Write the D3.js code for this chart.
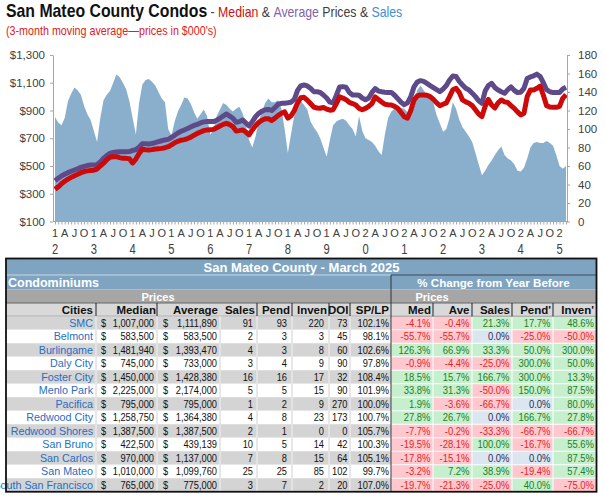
<!DOCTYPE html>
<html>
<head>
<meta charset="utf-8">
<script src="https://cdn.jsdelivr.net/npm/d3@7"></script>
<style>
body { margin: 0; background: #fff; }
svg { display: block; font-family: Arial, "Liberation Sans", sans-serif; }
text { white-space: pre; }
</style>
</head>
<body>
<div id="chart"></div>
<script>

// ---- chart data: 3-month moving averages, Jan 2012 .. Mar 2025 ----
const startYear = 2012

const medianK = [
332,350,372,390,405,418,430,440,452,460,465,468,
470,478,500,520,545,563,566,567,560,555,555,553,
522,550,590,620,617,615,618,623,625,627,632,639,
652,668,678,686,690,698,708,722,735,745,755,760,
762,764,775,788,800,808,798,784,752,755,760,745,
725,760,790,815,830,840,840,828,845,865,880,890,
845,862,900,955,992,995,975,950,925,918,916,922,
910,902,906,950,998,990,978,958,950,940,915,905,
915,930,950,998,980,962,945,942,940,930,915,885,
855,845,900,975,1005,1012,1012,1010,1000,980,955,935,
945,955,1000,1050,1060,1030,976,962,952,935,905,875,
856,930,980,940,918,955,976,962,958,935,915,890,
868,880,1000,1048,1048,1060,1075,1010,935,925,923,923,
930,988,1015
]

const averageK = [
394,412,428,440,452,462,471,480,490,497,503,507,
507,510,530,555,575,591,597,601,602,603,603,604,
612,618,635,660,661,659,662,668,675,682,688,692,
705,722,738,750,760,770,782,792,800,810,818,820,
820,820,830,844,860,875,860,844,815,820,832,810,
788,820,855,880,895,906,908,900,920,945,952,953,
956,960,980,1045,1078,1084,1077,1060,1036,1036,1030,1012,
990,960,955,1010,1070,1072,1068,1030,1012,1012,1010,990,
978,990,1030,1058,1040,1035,1032,1030,1030,1010,985,960,
942,955,1000,1070,1105,1115,1110,1095,1080,1065,1050,1036,
1055,1080,1120,1148,1146,1110,1084,1060,1048,1025,1000,970,
952,1040,1080,1096,1065,1048,1035,1024,1050,1070,1045,1029,
1032,1060,1130,1142,1150,1162,1145,1100,1050,1035,1029,1029,
1030,1055,1067
]

const salesAvg = [
113,107,104,112,130,138,145,142,137,125,116,110,
98,86,112,131,137,141,150,159,156,150,143,130,
112,94,128,148,153,154,151,147,140,133,129,100,
93,108,119,126,134,133,127,118,111,116,121,114,
94,99,114,121,128,126,122,119,122,124,117,104,
88,80,92,108,119,128,133,129,129,131,122,100,
74,95,115,125,130,126,121,108,102,97,90,80,
70,88,104,108,110,111,109,104,100,92,114,98,
90,88,86,82,76,72,94,112,119,122,124,123,
122,118,115,128,142,147,142,137,133,128,115,106,
97,100,112,129,122,110,102,97,92,86,74,62,
50,55,61,66,72,77,81,72,68,66,62,55,
54,58,68,80,85,86,85,85,87,85,82,72,
60,57,60
]

const priceTicks = [100, 300, 500, 700, 900, 1100, 1300]
const salesTicks = [0, 20, 40, 60, 80, 100, 120, 140, 160, 180]
const quarterLetters = ['A', 'J', 'O']

// ---- table data: March 2025 ----
const cities = ['SMC','Belmont','Burlingame','Daly City','Foster City','Menlo Park','Pacifica','Redwood City','Redwood Shores','San Bruno','San Carlos','San Mateo','South San Francisco']
const medianPrice = [1007000,583500,1481940,745000,1450000,2225000,795000,1258750,1387500,422500,970000,1010000,765000]
const averagePrice = [1111890,583500,1393470,733000,1428380,2174000,795000,1364380,1387500,439139,1137000,1099760,775000]
const salesCount = [91,2,4,3,16,5,1,4,2,10,7,25,3]
const pendCount = [93,3,3,4,16,5,2,8,1,5,8,25,7]
const invenCount = [220,3,8,9,17,15,9,23,0,14,15,85,2]
const doiDays = [73,45,60,90,32,90,270,173,0,42,64,102,20]
const spLp = [102.1,98.1,102.6,97.8,108.4,101.9,100.0,100.7,105.7,100.3,105.1,99.7,107.0]
const chgMed = [-4.1,-55.7,126.3,-0.9,18.5,33.8,1.9,27.8,-7.7,-19.5,-17.8,-3.2,-19.7]
const chgAve = [-0.4,-55.7,66.9,-4.4,15.7,31.3,-3.6,26.7,-0.2,-28.1,-15.1,7.2,-21.3]
const chgSales = [21.3,0.0,33.3,-25.0,166.7,-50.0,-66.7,0.0,-33.3,100.0,0.0,38.9,-25.0]
const chgPend = [17.7,-25.0,50.0,300.0,300.0,150.0,0.0,166.7,-66.7,-16.7,0.0,-19.4,40.0]
const chgInven = [48.6,-50.0,300.0,50.0,13.3,87.5,80.0,27.8,-66.7,55.6,87.5,57.4,-75.0]

const width = 605
const height = 495

const svg = d3.select('#chart')
.append('svg')
.attr('width', width)
.attr('height', height)

// squeeze a text element horizontally to a target width
const fitText = (sel, x, y, w) => {
	const len = sel.node().getComputedTextLength()
	sel.attr('transform', `translate(${x},${y}) scale(${w / len},1)`)
}

///------- TITLE -------

const title = svg.append('text').attr('fill', '#404040')
title.append('tspan').attr('font-weight', 'bold').attr('font-size', 18).attr('fill', '#111').text('San Mateo County Condos')
title.append('tspan').attr('font-size', 14).text(' - ')
title.append('tspan').attr('font-size', 14).attr('fill', '#cc1010').text('Median')
title.append('tspan').attr('font-size', 14).text(' & ')
title.append('tspan').attr('font-size', 14).attr('fill', '#8064a8').text('Average')
title.append('tspan').attr('font-size', 14).text(' Prices & ')
title.append('tspan').attr('font-size', 14).attr('fill', '#3d8fd1').text('Sales')
fitText(title, 6, 17, 396)

const subtitle = svg.append('text')
.attr('font-size', 13)
.attr('fill', '#e02020')
.text('(3-month moving average\u2014prices in $000\'s)')
fitText(subtitle, 6, 34.5, 211)

///------- CHART -------

const x = d3.scaleLinear().domain([0, medianK.length - 1]).range([55, 566])
const yPrice = d3.scaleLinear().domain([100, 1300]).range([221.5, 55])
const ySales = d3.scaleLinear().domain([0, 180]).range([221.5, 55])

svg.append('path')
.datum(salesAvg)
.attr('d', d3.area().x((d, i) => x(i)).y0(ySales(0)).y1(d => ySales(d)))
.attr('fill', '#89afcc')

const priceLine = d3.line().x((d, i) => x(i)).y(d => yPrice(d))

svg.append('path')
.datum(averageK)
.attr('d', priceLine)
.attr('fill', 'none')
.attr('stroke', '#5e4a88')
.attr('stroke-width', 5)
.attr('stroke-linejoin', 'round')

svg.append('path')
.datum(medianK)
.attr('d', priceLine)
.attr('fill', 'none')
.attr('stroke', '#cc0a0a')
.attr('stroke-width', 5)
.attr('stroke-linejoin', 'round')

const styleAxis = g => {
	g.select('.domain').attr('stroke', '#a6a6a6')
	g.selectAll('.tick line').attr('stroke', '#a6a6a6')
	g.selectAll('text').attr('fill', '#404040').attr('font-size', 11.5).attr('font-family', 'Arial, "Liberation Sans", sans-serif')
}

svg.append('g')
.attr('transform', 'translate(53,0)')
.call(d3.axisLeft(yPrice).tickValues(priceTicks).tickSize(3).tickSizeOuter(0).tickPadding(5).tickFormat(d3.format('$,')))
.call(styleAxis)

svg.append('g')
.attr('transform', 'translate(567,0)')
.call(d3.axisRight(ySales).tickValues(salesTicks).tickSize(3).tickSizeOuter(0).tickPadding(8))
.call(styleAxis)

const xAxis = svg.append('g')
.attr('transform', `translate(0,${ySales(0)})`)
.call(d3.axisBottom(x).tickValues(medianK.map((d, i) => i)).tickSize(3).tickSizeOuter(0).tickFormat(''))
.call(styleAxis)
xAxis.select('.domain').remove()

svg.append('line')
.attr('x1', 53).attr('x2', 567)
.attr('y1', ySales(0)).attr('y2', ySales(0))
.attr('stroke', '#a6a6a6')

const quarters = medianK.map((d, i) => i).filter(i => i % 3 === 0)

svg.append('g')
.selectAll('text')
.data(quarters)
.enter()
.append('text')
.attr('x', i => x(i))
.attr('y', 237)
.attr('text-anchor', 'middle')
.attr('font-size', 11)
.attr('fill', '#404040')
.text(i => i % 12 === 0 ? String(startYear + i / 12)[2] : quarterLetters[(i % 12) / 3 - 1])

svg.append('g')
.selectAll('text')
.data(quarters.filter(i => i % 12 === 0))
.enter()
.append('text')
.attr('transform', i => `translate(${x(i)},254) scale(0.8,1)`)
.attr('text-anchor', 'middle')
.attr('font-size', 14)
.attr('fill', '#404040')
.text(i => String(startYear + i / 12)[3])

///------- TABLE -------

const table = svg.append('g')

const tLeft = 6
const tRight = 596.5
const tMid = 391
const rowH = 13.5
const dataTop = 316.25
const leftCols = [96, 157, 220, 257, 292, 329, 350]
const rightCols = [391, 433, 472, 512, 553, 596.5]
const bandBlue = '#7ea4c2'

table.append('rect').attr('x', tLeft).attr('y', 258.5).attr('width', tRight - tLeft).attr('height', 31).attr('fill', bandBlue)
table.append('line').attr('x1', tLeft).attr('x2', tMid).attr('y1', 275).attr('y2', 275).attr('stroke', '#c8d6e2')
table.append('line').attr('x1', tMid).attr('x2', tRight).attr('y1', 275).attr('y2', 275).attr('stroke', '#3a4a58')
table.append('rect').attr('x', tLeft).attr('y', 289.5).attr('width', tRight - tLeft).attr('height', 13.5).attr('fill', '#a6a6a6')
table.append('rect').attr('x', tLeft).attr('y', 303).attr('width', tRight - tLeft).attr('height', dataTop - 303).attr('fill', '#d9d9d9')

table.append('text')
.attr('x', 301.5).attr('y', 271.5)
.attr('text-anchor', 'middle')
.attr('font-size', 13).attr('font-weight', 'bold').attr('fill', '#fff')
.text('San Mateo County - March 2025')

table.append('text')
.attr('x', 8).attr('y', 286.5)
.attr('font-size', 12.5).attr('font-weight', 'bold').attr('fill', '#fff')
.text('Condominiums')

table.append('text')
.attr('x', 493.5).attr('y', 286.5)
.attr('text-anchor', 'middle')
.attr('font-size', 11.6).attr('font-weight', 'bold').attr('fill', '#fff')
.text('% Change from Year Before')

table.selectAll('.prices-head')
.data([158, 432])
.enter()
.append('text')
.attr('x', d => d).attr('y', 300.5)
.attr('text-anchor', 'middle')
.attr('font-size', 11).attr('font-weight', 'bold').attr('fill', '#fff')
.text('Prices')

const headLeft = [
	{t: 'Cities', x: 93}, {t: 'Median', x: 156}, {t: 'Average', x: 218}, {t: 'Sales', x: 255},
	{t: 'Pend', x: 290}, {t: 'Inven', x: 327}, {t: 'DOI', x: 348.5}, {t: 'SP/LP', x: 389}
]
const headRight = [
	{t: 'Med', x: 431}, {t: 'Ave', x: 469.5}, {t: 'Sales', x: 510}, {t: "Pend'", x: 551}, {t: "Inven'", x: 594}
]

table.selectAll('.head')
.data(headLeft.concat(headRight))
.enter()
.append('text')
.attr('x', d => d.x).attr('y', 313.8)
.attr('text-anchor', 'end')
.attr('font-size', 11.5).attr('font-weight', 'bold').attr('fill', '#111')
.text(d => d.t)

table.append('line').attr('x1', tLeft).attr('x2', tRight).attr('y1', 303).attr('y2', 303).attr('stroke', '#666')
table.append('line').attr('x1', tLeft).attr('x2', tRight).attr('y1', dataTop).attr('y2', dataTop).attr('stroke', '#888')

table.selectAll('.head-sep')
.data(leftCols.filter(c => c !== 220).concat(rightCols.slice(1, 5)))
.enter()
.append('line')
.attr('x1', d => d).attr('x2', d => d)
.attr('y1', 303).attr('y2', dataTop)
.attr('stroke', '#222')

// data rows
const rows = cities.map((c, i) => i)
const rowTop = i => dataTop + i * rowH
const base = i => rowTop(i) + rowH / 2 + 3.8

table.selectAll('.row-bg')
.data(rows)
.enter()
.append('rect')
.attr('x', tLeft).attr('y', i => rowTop(i))
.attr('width', tMid - tLeft).attr('height', rowH)
.attr('fill', i => i % 2 === 0 ? '#d4d4d4' : '#fff')

rows.forEach(i => {
	leftCols.forEach(c => {
		table.append('line')
		.attr('x1', c).attr('x2', c)
		.attr('y1', rowTop(i)).attr('y2', rowTop(i) + rowH)
		.attr('stroke', i % 2 === 0 ? '#f2f2f2' : '#d0d0d0')
	})
})

const numFmt = d3.format(',')
const numText = (txt, xPos, yPos, anchor, fill) => table.append('text')
	.attr('transform', `translate(${xPos},${yPos}) scale(0.86,1)`)
	.attr('text-anchor', anchor)
	.attr('font-size', 10.8)
	.attr('fill', fill)
	.text(txt)

rows.forEach(i => {
	const y = base(i)
	table.append('text')
	.attr('transform', `translate(93,${y}) scale(0.95,1)`)
	.attr('text-anchor', 'end')
	.attr('font-size', 11.3)
	.attr('fill', '#1f6fc4')
	.text(cities[i])

	numText('$', 101, y, 'start', '#111')
	numText(numFmt(medianPrice[i]), 154, y, 'end', '#111')
	numText('$', 163, y, 'start', '#111')
	numText(numFmt(averagePrice[i]), 217, y, 'end', '#111')
	numText(salesCount[i], 253, y, 'end', '#111')
	numText(pendCount[i], 287, y, 'end', '#111')
	numText(invenCount[i], 324, y, 'end', '#111')
	numText(doiDays[i], 347.5, y, 'end', '#111')
	numText(spLp[i].toFixed(1) + '%', 389, y, 'end', '#111')
})

const changeCols = [chgMed, chgAve, chgSales, chgPend, chgInven]
const cellFill = v => v > 0 ? '#c6efce' : v < 0 ? '#ffc7ce' : '#dce6f1'
const cellInk = v => v > 0 ? '#1e7e1e' : v < 0 ? '#e02828' : '#1f2f55'

changeCols.forEach((col, c) => {
	col.forEach((v, i) => {
		table.append('rect')
		.attr('x', rightCols[c] + 0.5).attr('y', rowTop(i) + 0.5)
		.attr('width', rightCols[c + 1] - rightCols[c] - 1).attr('height', rowH - 1)
		.attr('fill', cellFill(v))

		table.append('text')
		.attr('transform', `translate(${rightCols[c + 1] - 2.5},${base(i)}) scale(0.9,1)`)
		.attr('text-anchor', 'end')
		.attr('font-size', 10.5)
		.attr('fill', cellInk(v))
		.text(v.toFixed(1) + '%')
	})
})

// outer borders
table.append('line').attr('x1', tMid).attr('x2', tMid).attr('y1', 275).attr('y2', 491.75).attr('stroke', '#333')
table.append('rect')
.attr('x', tLeft).attr('y', 258.5)
.attr('width', tRight - tLeft).attr('height', 491.75 - 258.5)
.attr('fill', 'none')
.attr('stroke', '#111')
.attr('stroke-width', 1.8)

</script>
</body>
</html>
